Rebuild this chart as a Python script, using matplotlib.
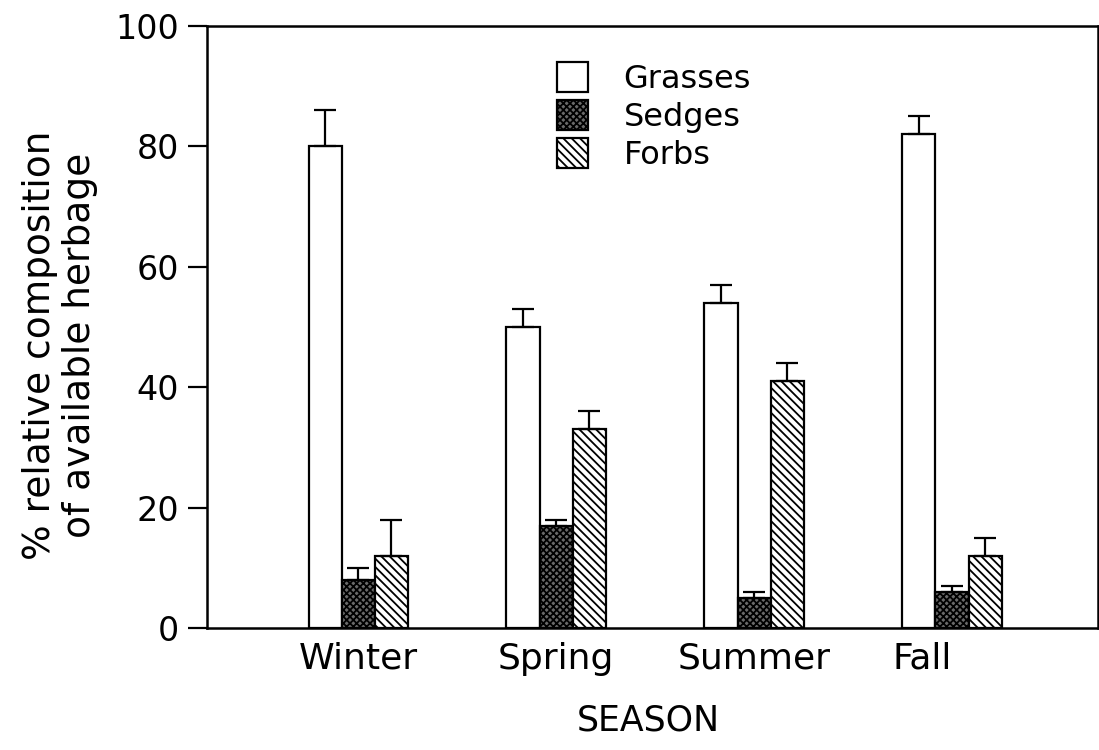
import matplotlib
matplotlib.use("Agg")
import matplotlib.pyplot as plt
import numpy as np

plt.rcParams['font.family'] = ['DejaVu Sans']
plt.rcParams['hatch.linewidth'] = 1.3

seasons = ["Winter", "Spring", "Summer", "Fall"]
grasses = [80, 50, 54, 82]
grasses_err = [6, 3, 3, 3]
sedges = [8, 17, 5, 6]
sedges_err = [2, 1, 1, 1]
forbs = [12, 33, 41, 12]
forbs_err = [6, 3, 3, 3]

fig = plt.figure(figsize=(10.99, 7.5), dpi=100)
ax = fig.add_axes([0.1884, 0.1627, 0.8106, 0.8026])

x = np.arange(len(seasons))
w = 0.167
err_kw = dict(ecolor="black", elinewidth=1.6, capsize=8, capthick=1.6)
no_low = np.zeros(len(seasons))

ax.bar(x - w, grasses, w, color="white", edgecolor="black", linewidth=1.6,
       yerr=[no_low, grasses_err], error_kw=err_kw, label="Grasses")
ax.bar(x, sedges, w, color="#6a6a6a", edgecolor="black", linewidth=1.6,
       hatch="xxxxx", yerr=[no_low, sedges_err], error_kw=err_kw,
       label="Sedges")
ax.bar(x + w, forbs, w, color="white", edgecolor="black", linewidth=1.6,
       hatch="\\\\\\\\", yerr=[no_low, forbs_err], error_kw=err_kw,
       label="Forbs")

ax.set_xlim(-0.763, 3.737)
ax.set_ylim(0, 100)
ax.set_yticks([0, 20, 40, 60, 80, 100])
ax.tick_params(axis="y", labelsize=24, length=14, width=1.6, direction="out",
               pad=6)
# "Fall" sits a little left of its group in the original
ax.set_xticks([0, 1, 2, 2.85])
ax.set_xticklabels(seasons)
ax.tick_params(axis="x", labelsize=26, length=0, pad=10)
for s in ax.spines.values():
    s.set_linewidth(1.8)

ax.set_xlabel("SEASON", fontsize=25)
ax.xaxis.set_label_coords(0.495, -0.125)
ax.set_ylabel("% relative composition\nof available herbage", fontsize=27,
              linespacing=1.15)
ax.yaxis.set_label_coords(-0.122, 0.47)

ax.legend(loc="upper left", bbox_to_anchor=(0.393, 0.94), frameon=False,
          fontsize=23, handlelength=0.98, handleheight=1.05,
          handletextpad=1.1, labelspacing=0.17, borderpad=0,
          borderaxespad=0)

fig.savefig("out.png", dpi=100)
